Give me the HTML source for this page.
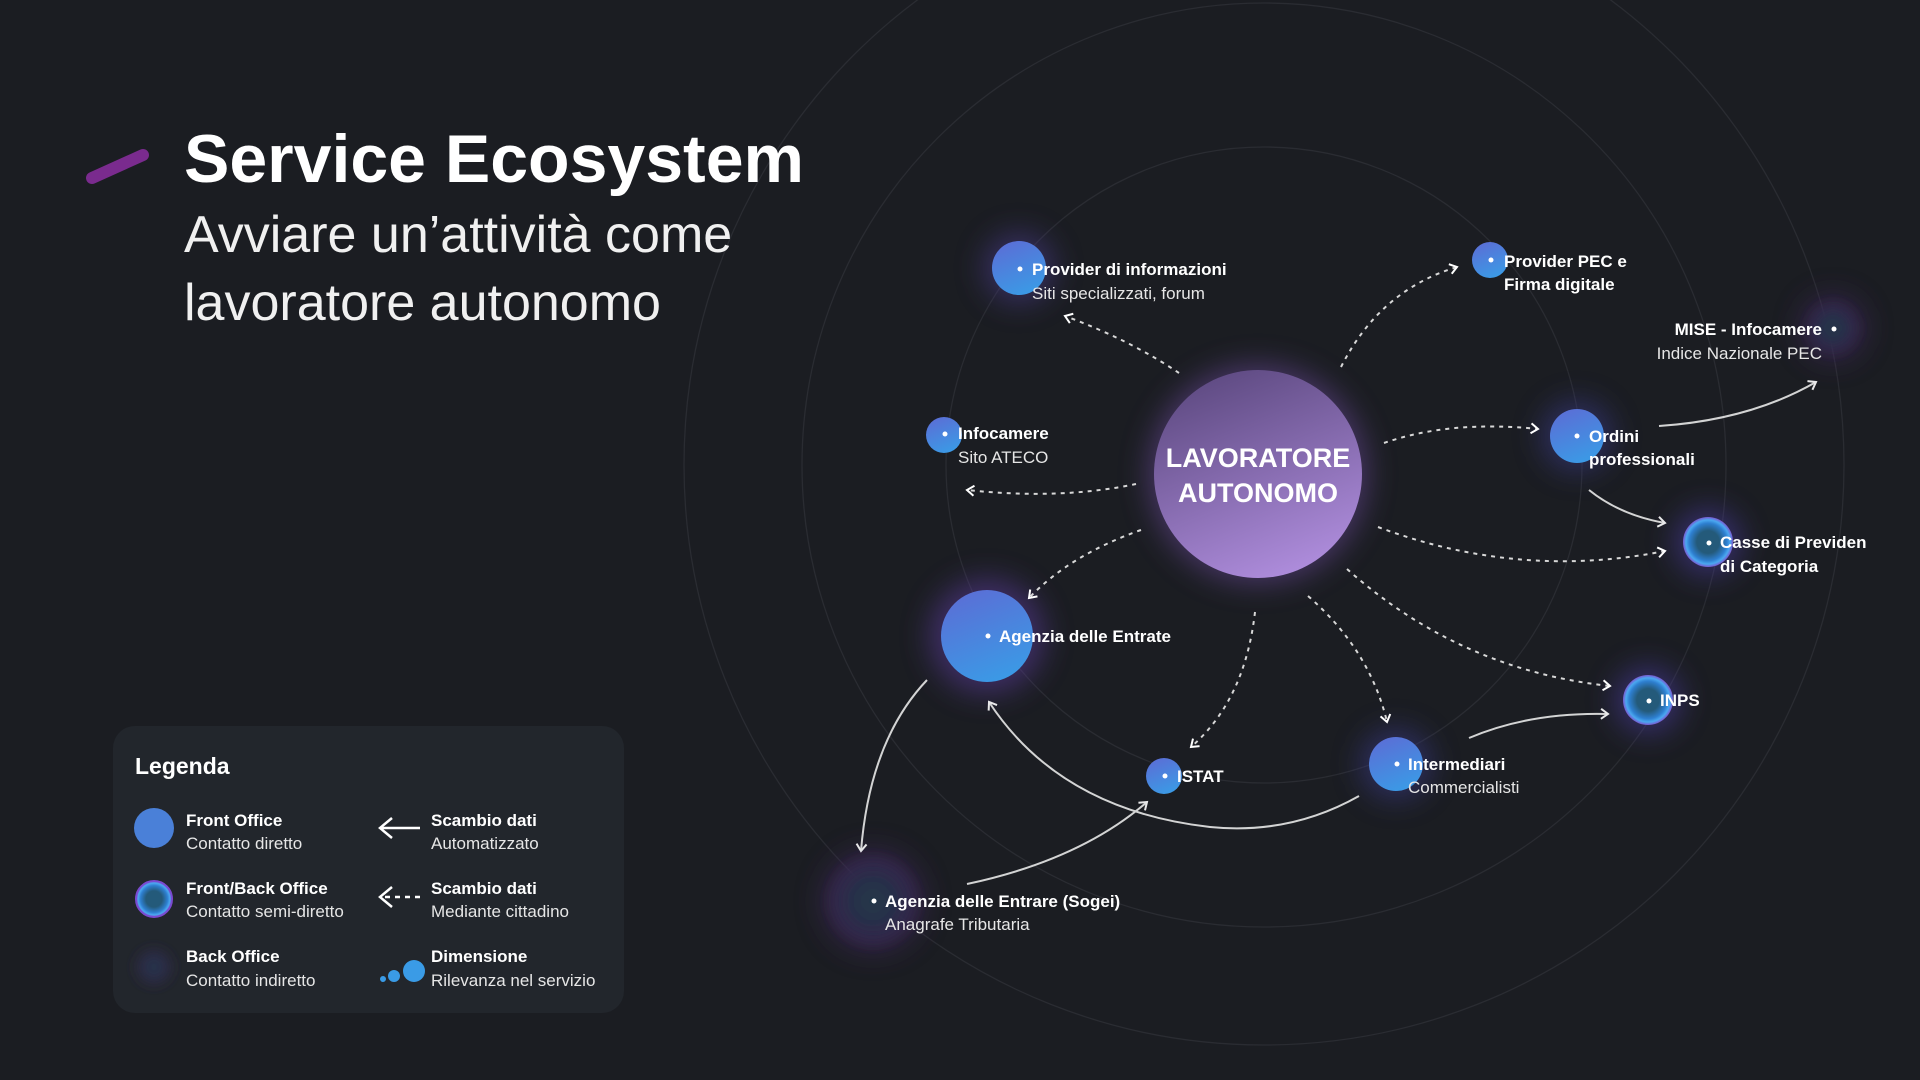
<!DOCTYPE html>
<html><head><meta charset="utf-8"><style>
html,body{margin:0;padding:0;background:#1b1d22;}
body{width:1920px;height:1080px;overflow:hidden;font-family:"Liberation Sans",sans-serif;}
svg{display:block}
text{font-family:"Liberation Sans","DejaVu Sans",sans-serif;fill:#fff}
.b{font-weight:bold;font-size:17px}
.r{font-size:17px;fill:#e6e6e6}
</style></head><body>
<svg width="1920" height="1080" viewBox="0 0 1920 1080" xmlns="http://www.w3.org/2000/svg">
<defs>
<filter id="blur" x="-100%" y="-100%" width="300%" height="300%"><feGaussianBlur stdDeviation="14"/></filter>
<filter id="blur2" x="-100%" y="-100%" width="300%" height="300%"><feGaussianBlur stdDeviation="6"/></filter>
<linearGradient id="cg" x1="0.3" y1="0" x2="0.7" y2="1"><stop offset="0" stop-color="#5e4a82"/><stop offset="1" stop-color="#b08ede"/></linearGradient>
<linearGradient id="bg" x1="0.3" y1="0" x2="0.7" y2="1"><stop offset="0" stop-color="#5a6fd6"/><stop offset="1" stop-color="#3a9be6"/></linearGradient>
<radialGradient id="ring"><stop offset="0.45" stop-color="#245a7a"/><stop offset="0.75" stop-color="#2e7fd0"/><stop offset="0.88" stop-color="#4aa8f0"/><stop offset="1" stop-color="#7a5ad0"/></radialGradient>
<radialGradient id="dark"><stop offset="0" stop-color="#233a48"/><stop offset="0.7" stop-color="#2a2a48"/><stop offset="1" stop-color="#3a2a55" stop-opacity="0.3"/></radialGradient>
<marker id="ah" viewBox="0 0 12 12" refX="9" refY="6" markerWidth="12" markerHeight="12" markerUnits="userSpaceOnUse" orient="auto"><path d="M2 1 L9 6 L2 11" fill="none" stroke="#fff" stroke-width="2"/></marker>
</defs>
<rect width="1920" height="1080" fill="#1b1d22"/>
<g fill="none" stroke="#2a2c32" stroke-width="1.3">
<circle cx="1264" cy="465" r="318"/>
<circle cx="1264" cy="465" r="462"/>
<circle cx="1264" cy="465" r="580"/>
</g>
<path d="M92 178 L143 155" stroke="#7a2b8e" stroke-width="12" stroke-linecap="round"/>
<text x="184" y="182" style="font-size:68px;font-weight:bold">Service Ecosystem</text>
<text x="184" y="252" style="font-size:52px;fill:#f0f0f0">Avviare un’attività come</text>
<text x="184" y="320" style="font-size:52px;fill:#f0f0f0">lavoratore autonomo</text>

<g filter="url(#blur)" opacity="0.55">
<circle cx="1258" cy="474" r="110" fill="#6a4a9a"/>
<circle cx="1019" cy="268" r="36" fill="#4a3a8a"/>
<circle cx="987" cy="636" r="58" fill="#5a3a9a"/>
<circle cx="1396" cy="764" r="36" fill="#3a3a8a"/>
<circle cx="1577" cy="436" r="36" fill="#3a3a8a"/>
<circle cx="1708" cy="542" r="34" fill="#4a3aa0"/>
<circle cx="1648" cy="700" r="34" fill="#4a3aa0"/>
<circle cx="873" cy="901" r="50" fill="#4a2a6a"/>
<circle cx="1833" cy="328" r="32" fill="#4a2a6a"/>
</g>

<g fill="none" stroke="#d8d8d8" stroke-width="2" stroke-dasharray="4 5" marker-end="url(#ah)">
<path d="M1179 373 Q1130 340 1065 316"/>
<path d="M1341 367 Q1380 290 1457 267"/>
<path d="M1136 484 Q1060 500 967 490"/>
<path d="M1384 443 Q1450 420 1538 429"/>
<path d="M1378 527 Q1520 580 1665 551"/>
<path d="M1347 569 Q1460 670 1610 686"/>
<path d="M1308 596 Q1370 650 1387 722"/>
<path d="M1255 612 Q1245 700 1191 747"/>
<path d="M1141 530 Q1070 555 1029 598"/>
</g>
<g fill="none" stroke="#e8e8e8" stroke-width="2" marker-end="url(#ah)" opacity="0.9">
<path d="M1659 426 Q1750 420 1816 382"/>
<path d="M1589 490 Q1620 515 1665 523"/>
<path d="M1469 738 Q1530 712 1608 714"/>
<path d="M1359 796 Q1290 835 1210 827 Q1060 810 989 702"/>
<path d="M967 884 Q1080 860 1147 802"/>
<path d="M927 680 Q870 740 861 851"/>
</g>

<circle cx="1258" cy="474" r="104" fill="url(#cg)"/>
<text x="1258" y="467" text-anchor="middle" style="font-size:27px;font-weight:bold">LAVORATORE</text>
<text x="1258" y="502" text-anchor="middle" style="font-size:27px;font-weight:bold">AUTONOMO</text>

<circle cx="1019" cy="268" r="27" fill="url(#bg)"/>
<circle cx="1490" cy="260" r="18" fill="url(#bg)"/>
<circle cx="944" cy="435" r="18" fill="url(#bg)"/>
<circle cx="1577" cy="436" r="27" fill="url(#bg)"/>
<circle cx="987" cy="636" r="46" fill="url(#bg)"/>
<circle cx="1164" cy="776" r="18" fill="url(#bg)"/>
<circle cx="1396" cy="764" r="27" fill="url(#bg)"/>
<circle cx="1708" cy="542" r="25" fill="url(#ring)"/>
<circle cx="1648" cy="700" r="25" fill="url(#ring)"/>
<circle cx="873" cy="901" r="44" fill="url(#dark)" filter="url(#blur2)"/>
<circle cx="1833" cy="328" r="25" fill="url(#dark)" filter="url(#blur2)"/>

<g>
<circle cx="1020" cy="269" r="2.5" fill="#fff"/>
<text x="1032" y="275" class="b">Provider di informazioni</text>
<text x="1032" y="299" class="r">Siti specializzati, forum</text>
<circle cx="1491" cy="260" r="2.5" fill="#fff"/>
<text x="1504" y="267" class="b">Provider PEC e</text>
<text x="1504" y="290" class="b">Firma digitale</text>
<circle cx="1834" cy="329" r="2.5" fill="#fff"/>
<text x="1822" y="335" class="b" text-anchor="end">MISE - Infocamere</text>
<text x="1822" y="359" class="r" text-anchor="end">Indice Nazionale PEC</text>
<circle cx="945" cy="434" r="2.5" fill="#fff"/>
<text x="958" y="439" class="b">Infocamere</text>
<text x="958" y="463" class="r">Sito ATECO</text>
<circle cx="1577" cy="436" r="2.5" fill="#fff"/>
<text x="1589" y="442" class="b">Ordini</text>
<text x="1589" y="465" class="b">professionali</text>
<circle cx="1709" cy="543" r="2.5" fill="#fff"/>
<text x="1720" y="548" class="b">Casse di Previden</text>
<text x="1720" y="572" class="b">di Categoria</text>
<circle cx="1649" cy="701" r="2.5" fill="#fff"/>
<text x="1660" y="706" class="b">INPS</text>
<circle cx="988" cy="636" r="2.5" fill="#fff"/>
<text x="999" y="642" class="b">Agenzia delle Entrate</text>
<circle cx="1165" cy="776" r="2.5" fill="#fff"/>
<text x="1177" y="782" class="b">ISTAT</text>
<circle cx="1397" cy="764" r="2.5" fill="#fff"/>
<text x="1408" y="770" class="b">Intermediari</text>
<text x="1408" y="793" class="r">Commercialisti</text>
<circle cx="874" cy="901" r="2.5" fill="#fff"/>
<text x="885" y="907" class="b">Agenzia delle Entrare (Sogei)</text>
<text x="885" y="930" class="r">Anagrafe Tributaria</text>
</g>

<rect x="113" y="726" width="511" height="287" rx="22" fill="#22262c"/>
<text x="135" y="774" style="font-size:23px;font-weight:bold">Legenda</text>
<circle cx="154" cy="828" r="20" fill="#4a80d8"/>
<circle cx="154" cy="899" r="18" fill="url(#ring)" stroke="#7a4ad0" stroke-width="2"/>
<circle cx="154" cy="967" r="18" fill="url(#dark)" filter="url(#blur2)"/>
<text x="186" y="826" class="b">Front Office</text>
<text x="186" y="849" class="r">Contatto diretto</text>
<text x="186" y="894" class="b">Front/Back Office</text>
<text x="186" y="917" class="r">Contatto semi-diretto</text>
<text x="186" y="962" class="b">Back Office</text>
<text x="186" y="986" class="r">Contatto indiretto</text>
<path d="M420 828 L380 828 M392 818 L380 828 L392 838" fill="none" stroke="#fff" stroke-width="2.5"/>
<path d="M420 897 L384 897" stroke="#fff" stroke-width="2.5" stroke-dasharray="5 5"/>
<path d="M392 887 L380 897 L392 907" fill="none" stroke="#fff" stroke-width="2.5"/>
<circle cx="383" cy="979" r="3" fill="#3a9be6"/>
<circle cx="394" cy="976" r="6" fill="#3a9be6"/>
<circle cx="414" cy="971" r="11" fill="#3a9be6"/>
<text x="431" y="826" class="b">Scambio dati</text>
<text x="431" y="849" class="r">Automatizzato</text>
<text x="431" y="894" class="b">Scambio dati</text>
<text x="431" y="917" class="r">Mediante cittadino</text>
<text x="431" y="962" class="b">Dimensione</text>
<text x="431" y="986" class="r">Rilevanza nel servizio</text>
</svg>
</body></html>
